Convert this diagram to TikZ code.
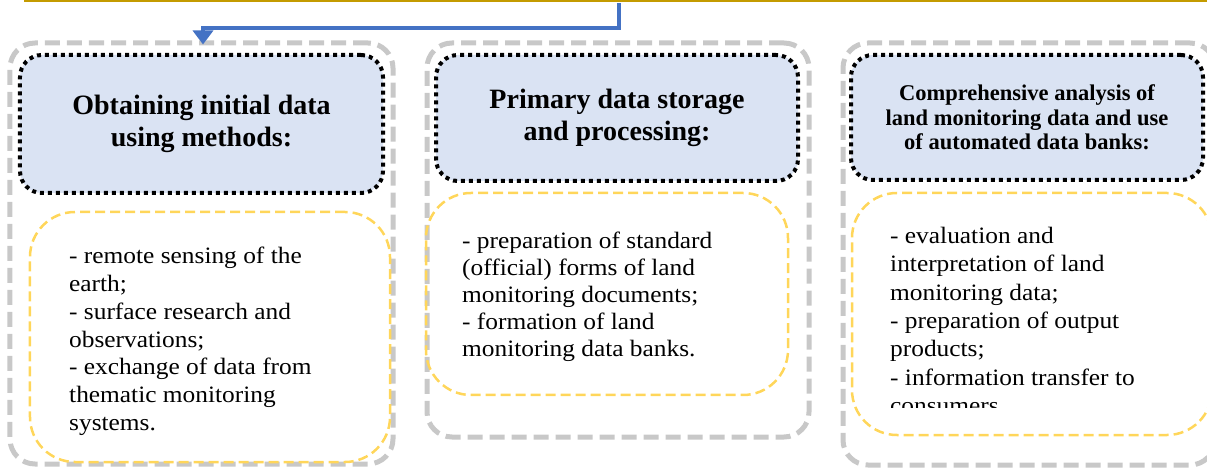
\documentclass[tikz,border=0pt]{standalone}
\usepackage{fontspec}
\setmainfont{Liberation Serif}
\newfontfamily\bodyfont[FakeStretch=1.08]{Liberation Serif}
\usetikzlibrary{arrows.meta,calc}
\definecolor{goldline}{RGB}{196,155,0}
\definecolor{arrowblue}{RGB}{68,114,196}
\definecolor{grayframe}{RGB}{200,200,200}
\definecolor{headfill}{RGB}{218,227,243}
\definecolor{yellowframe}{RGB}{255,214,90}
\tikzset{
  outerframe/.style={draw=grayframe, line width=5bp, dash pattern=on 15bp off 7bp, rounded corners=25bp, inner sep=0pt},
  headbox/.style={draw=black, fill=headfill, line width=4bp, dash pattern=on 4bp off 4bp, rounded corners=22bp, align=center, inner sep=0pt, font={\bfseries\fontsize{28bp}{32bp}\selectfont}},
  smallhead/.style={font={\bfseries\fontsize{22.5bp}{24.5bp}\selectfont}},
  listframe/.style={draw=yellowframe, line width=2.5bp, dash pattern=on 10bp off 5bp, rounded corners=45bp, inner sep=0pt},
  listtext/.style={anchor=north west, align=left, inner sep=0pt},
  flowarrow/.style={draw=arrowblue, line width=3.5bp, -{Triangle[width=20bp,length=14bp]}},
}
\begin{document}
\begin{tikzpicture}[x=1bp,y=-1bp]
\useasboundingbox (0,0) rectangle (1207,468);
% top edge of the box above
\draw[goldline, line width=2bp] (24,0.8) -- (1207,0.8);

% outer gray frames
\node[outerframe, minimum width=383bp, minimum height=421bp] (g1) at (201.5,253.5) {};
\node[outerframe, minimum width=382bp, minimum height=394bp] (g2) at (618,240) {};
\node[outerframe, minimum width=372bp, minimum height=422bp] (g3) at (1029,254) {};

% heading boxes
\node[headbox, minimum width=363bp, minimum height=138bp] (h1) at (201.5,124) {Obtaining initial data\\using methods:};
\node[headbox, minimum width=362bp, minimum height=126bp] (h2) at (617,118) {Primary data storage\\and processing:};
\node[headbox, smallhead, minimum width=352bp, minimum height=125bp] (h3) at (1027,117.5) {Comprehensive analysis of\\land monitoring data and use\\of automated data banks:};

% yellow list frames
\node[listframe, minimum width=360bp, minimum height=250bp] (y1) at (210,337) {};
\node[listframe, minimum width=362bp, minimum height=202bp] (y2) at (607,294) {};
\node[listframe, minimum width=360bp, minimum height=242bp] (y3) at (1032,314) {};

% list texts
\tikzset{listfont/.style={font={\bodyfont\fontsize{23.5bp}{27.8bp}\selectfont}}}
\node[listtext, listfont] (t1) at (69,247) {- remote sensing of the\\earth;\\- surface research and\\observations;\\- exchange of data from\\thematic monitoring\\systems.};
\node[listtext, font={\bodyfont\fontsize{23.5bp}{27bp}\selectfont}] (t2) at (462,232) {- preparation of standard\\(official) forms of land\\monitoring documents;\\- formation of land\\monitoring data banks.};
\begin{scope}
\clip (850,150) rectangle (1210,408);
\node[listtext, font={\bodyfont\fontsize{23.5bp}{28.3bp}\selectfont}] (t3) at (890,227) {- evaluation and\\interpretation of land\\monitoring data;\\- preparation of output\\products;\\- information transfer to\\consumers.};
\end{scope}

% arrow from above
\coordinate (src) at (619,3);
\draw[flowarrow, shorten >=-4bp] (src) -- ++(0,25) -| ([xshift=1.5bp]g1.north);
\end{tikzpicture}
\end{document}
